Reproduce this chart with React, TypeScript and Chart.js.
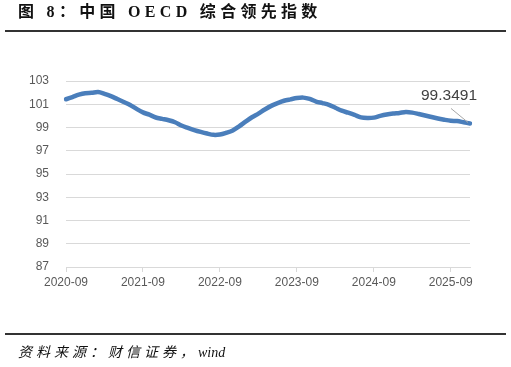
import React, { useEffect, useRef } from "react";
import { Chart, registerables } from "chart.js";

Chart.register(...registerables);

const months: string[] = [
  "2020-09", "2020-10", "2020-11", "2020-12",
  "2021-01", "2021-02", "2021-03", "2021-04", "2021-05", "2021-06", "2021-07", "2021-08", "2021-09", "2021-10", "2021-11", "2021-12",
  "2022-01", "2022-02", "2022-03", "2022-04", "2022-05", "2022-06", "2022-07", "2022-08", "2022-09", "2022-10", "2022-11", "2022-12",
  "2023-01", "2023-02", "2023-03", "2023-04", "2023-05", "2023-06", "2023-07", "2023-08", "2023-09", "2023-10", "2023-11", "2023-12",
  "2024-01", "2024-02", "2024-03", "2024-04", "2024-05", "2024-06", "2024-07", "2024-08", "2024-09", "2024-10", "2024-11", "2024-12",
  "2025-01", "2025-02", "2025-03", "2025-04", "2025-05", "2025-06", "2025-07", "2025-08", "2025-09", "2025-10", "2025-11", "2025-12",
];

const oecdCli: number[] = [
  101.43, 101.62, 101.82, 101.95,
  101.98, 102.05, 101.9, 101.7, 101.45, 101.2, 100.94, 100.6, 100.3, 100.1, 99.86, 99.74,
  99.62, 99.45, 99.17, 98.97, 98.78, 98.62, 98.48, 98.37, 98.4, 98.55, 98.75, 99.1,
  99.5, 99.88, 100.2, 100.55, 100.86, 101.1, 101.3, 101.42, 101.53, 101.57, 101.46, 101.23,
  101.1, 100.95, 100.7, 100.45, 100.27, 100.08, 99.87, 99.82, 99.85, 100.0, 100.12, 100.2,
  100.25, 100.33, 100.28, 100.16, 100.03, 99.9, 99.78, 99.67, 99.58, 99.55, 99.45, 99.3491,
];

const shownTicks: string[] = ["2020-09", "2021-09", "2022-09", "2023-09", "2024-09", "2025-09"];

const yMin = 87;
const yMax = 103;
const yStep = 2;

const lastLabelPlugin = {
  id: "lastLabel",
  afterDatasetsDraw(chart: any) {
    const meta = chart.getDatasetMeta(0);
    const pt = meta.data[meta.data.length - 1];
    if (!pt) return;
    const { x, y } = pt;
    const ctx = chart.ctx;
    ctx.save();
    ctx.strokeStyle = "#a6a6a6";
    ctx.lineWidth = 1;
    ctx.beginPath();
    ctx.moveTo(x - 19, y - 15);
    ctx.lineTo(x - 2, y - 1);
    ctx.stroke();
    ctx.fillStyle = "#404040";
    ctx.font = "15.5px 'Liberation Sans', Arial, sans-serif";
    ctx.textAlign = "center";
    ctx.textBaseline = "middle";
    ctx.fillText(String(oecdCli[oecdCli.length - 1]), x - 21, y - 28);
    ctx.restore();
  },
};

export default function App() {
  const canvasRef = useRef<HTMLCanvasElement | null>(null);

  useEffect(() => {
    if (!canvasRef.current) return;
    const font = { family: "'Liberation Sans', Arial, sans-serif", size: 12 };
    const chart = new Chart(canvasRef.current, {
      type: "line",
      data: {
        labels: months,
        datasets: [
          {
            data: oecdCli,
            borderColor: "#4a7ebb",
            borderWidth: 4.5,
            pointRadius: 0,
            tension: 0.3,
            borderCapStyle: "round",
            borderJoinStyle: "round",
            fill: false,
          },
        ],
      },
      options: {
        responsive: false,
        animation: false,
        devicePixelRatio: 1,
        layout: { padding: { top: 81, right: 41, bottom: 0, left: 0 } },
        plugins: { legend: { display: false }, tooltip: { enabled: false } },
        scales: {
          x: {
            type: "category",
            offset: false,
            grid: {
              display: true,
              drawOnChartArea: false,
              drawTicks: true,
              tickLength: 5,
              color: (c: any) => (shownTicks.includes(months[c.index]) ? "#d9d9d9" : "rgba(0,0,0,0)"),
            },
            border: { display: true, color: "#d9d9d9", width: 1 },
            ticks: {
              autoSkip: false,
              maxRotation: 0,
              minRotation: 0,
              padding: 3,
              color: "#595959",
              font,
              callback: (_v: any, i: number) => (shownTicks.includes(months[i]) ? months[i] : ""),
            },
            afterFit: (s: any) => {
              s.height = 100;
            },
          },
          y: {
            min: yMin,
            max: yMax,
            ticks: { stepSize: yStep, padding: 17, color: "#595959", font },
            grid: { color: "#d9d9d9", drawTicks: false, lineWidth: 1 },
            border: { display: false },
            afterFit: (s: any) => {
              s.width = 66;
            },
          },
        },
      },
      plugins: [lastLabelPlugin],
    } as any);
    return () => chart.destroy();
  }, []);

  return (
    <div style={{ position: "fixed", left: 0, top: 0, width: 511, height: 367, background: "#fff", overflow: "hidden" }}>
      <canvas ref={canvasRef} width={511} height={367} style={{ position: "absolute", left: 0, top: 0, width: 511, height: 367 }} />
      <div
        style={{
          position: "absolute",
          left: 18,
          top: 3,
          fontFamily: "'Liberation Serif', 'Noto Sans CJK SC', serif",
          fontWeight: "bold",
          fontSize: 16,
          lineHeight: "17px",
          letterSpacing: "4.3px",
          color: "#111",
          whiteSpace: "nowrap",
        }}
      >
        图 8：中国 OECD 综合领先指数
      </div>
      <div style={{ position: "absolute", left: 5, top: 30, width: 501, height: 2, background: "#333" }} />
      <div style={{ position: "absolute", left: 5, top: 333, width: 501, height: 2, background: "#333" }} />
      <div
        style={{
          position: "absolute",
          left: 18,
          top: 345,
          fontFamily: "'Liberation Serif', 'Noto Sans CJK SC', serif",
          fontStyle: "italic",
          fontSize: 14,
          lineHeight: "15px",
          color: "#111",
          whiteSpace: "nowrap",
        }}
      >
        <span style={{ letterSpacing: "4px" }}>资料来源：财信证券，</span>
        <span>wind</span>
      </div>
    </div>
  );
}
